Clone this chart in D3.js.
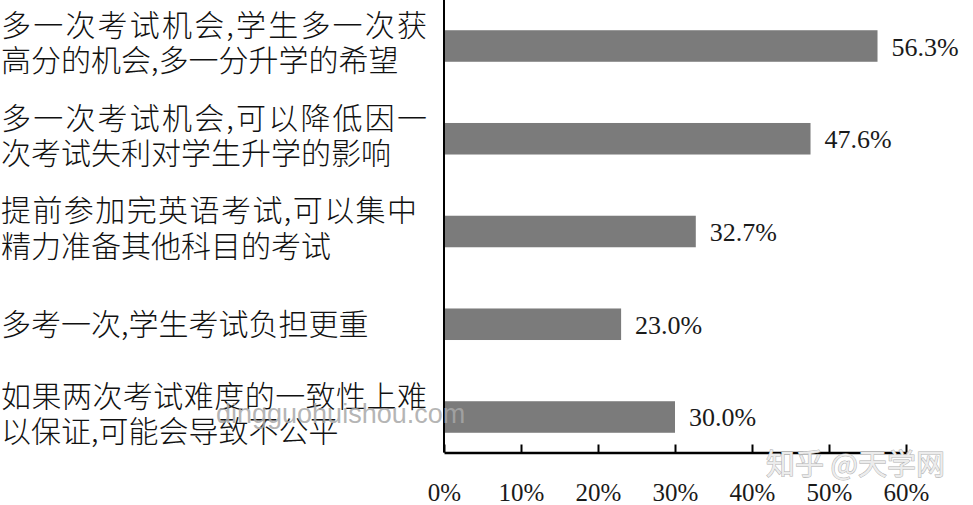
<!DOCTYPE html>
<html>
<head>
<meta charset="utf-8">
<script src="https://cdn.jsdelivr.net/npm/d3@7"></script>
<style>
  html, body { margin: 0; padding: 0; background: #fff; }
  svg { display: block; }
</style>
</head>
<body>
<svg id="chart" width="973" height="505"></svg>
<script>
// ---- data ----
const categories = [
  ["多一次考试机会,学生多一次获", "高分的机会,多一分升学的希望"],
  ["多一次考试机会,可以降低因一", "次考试失利对学生升学的影响"],
  ["提前参加完英语考试,可以集中", "精力准备其他科目的考试"],
  ["多考一次,学生考试负担更重"],
  ["如果两次考试难度的一致性上难", "以保证,可能会导致不公平"]
];
const values = [56.3, 47.6, 32.7, 23.0, 30.0];
const valueLabels = ["56.3%", "47.6%", "32.7%", "23.0%", "30.0%"];
const tickValues = [0, 10, 20, 30, 40, 50, 60];
const tickLabels = ["0%", "10%", "20%", "30%", "40%", "50%", "60%"];

// ---- drawing ----
const svg = d3.select("#chart");
const axisY = 452.5;
const axisX = 444;

const x = d3.scaleLinear().domain([0, 60]).range([axisX, 906]);
const y = d3.scaleBand()
  .domain(d3.range(categories.length))
  .range([0, 463])
  .paddingInner(0.66)
  .paddingOuter(0.326);

// bars
svg.append("g").selectAll("rect")
  .data(values)
  .join("rect")
  .attr("x", x(0))
  .attr("y", (d, i) => y(i))
  .attr("width", d => x(d) - x(0))
  .attr("height", y.bandwidth())
  .attr("fill", "#7b7b7b");

// value labels
svg.append("g").selectAll("text")
  .data(values)
  .join("text")
  .attr("x", d => x(d) + 14)
  .attr("y", (d, i) => y(i) + y.bandwidth() / 2 + 1)
  .attr("dominant-baseline", "central")
  .attr("font-family", "'Liberation Serif', 'Times New Roman', serif")
  .attr("font-size", 26)
  .attr("fill", "#1a1a1a")
  .text((d, i) => valueLabels[i]);

// category labels
const catG = svg.append("g");
categories.forEach((lines, i) => {
  const c = y(i) + y.bandwidth() / 2;
  const off = lines.length > 1 ? -5.5 : -2;
  const lh = 35.5;
  lines.forEach((ln, j) => {
    const t = catG.append("text")
      .attr("x", 1)
      .attr("y", c + off + (j - (lines.length - 1) / 2) * lh)
      .attr("dominant-baseline", "central")
      .attr("font-family", "'Noto Sans CJK SC', 'Noto Sans', sans-serif")
      .attr("font-weight", 300)
      .attr("font-size", 30)
      .attr("fill", "#111")
      .text(ln);
    if (lines.length > 1 && j === 0) {
      t.attr("textLength", i === 2 ? 416 : 426).attr("lengthAdjust", "spacing");
    }
  });
});

// left axis line
svg.append("line")
  .attr("x1", axisX).attr("x2", axisX)
  .attr("y1", 0).attr("y2", axisY)
  .attr("stroke", "#000").attr("stroke-width", 2);

// bottom axis
const xAxis = d3.axisBottom(x)
  .tickValues(tickValues)
  .tickSizeInner(-8)
  .tickSizeOuter(0)
  .tickPadding(31)
  .tickFormat((d, i) => tickLabels[i]);

const gx = svg.append("g")
  .attr("transform", `translate(0,${axisY})`)
  .call(xAxis);
gx.select(".domain").attr("stroke", "#000").attr("stroke-width", 2.5);
gx.selectAll(".tick line").attr("stroke", "#000").attr("stroke-width", 2);
gx.selectAll(".tick text")
  .attr("font-family", "'Liberation Serif', 'Times New Roman', serif")
  .attr("font-size", 25)
  .attr("fill", "#1a1a1a");

// watermarks
svg.append("text")
  .attr("x", 216).attr("y", 423)
  .attr("font-family", "'Liberation Sans', Arial, sans-serif")
  .attr("font-size", 27)
  .attr("fill", "#a8a8a8")
  .attr("fill-opacity", 0.85)
  .text("dingguohuishou.com");

svg.append("text")
  .attr("x", 766).attr("y", 475)
  .attr("font-family", "'Noto Sans CJK SC', sans-serif")
  .attr("font-size", 29)
  .attr("fill", "#ececec")
  .attr("stroke", "#b0b0b0")
  .attr("stroke-width", 1)
  .attr("paint-order", "stroke")
  .text("知乎 @天学网");
</script>
</body>
</html>
